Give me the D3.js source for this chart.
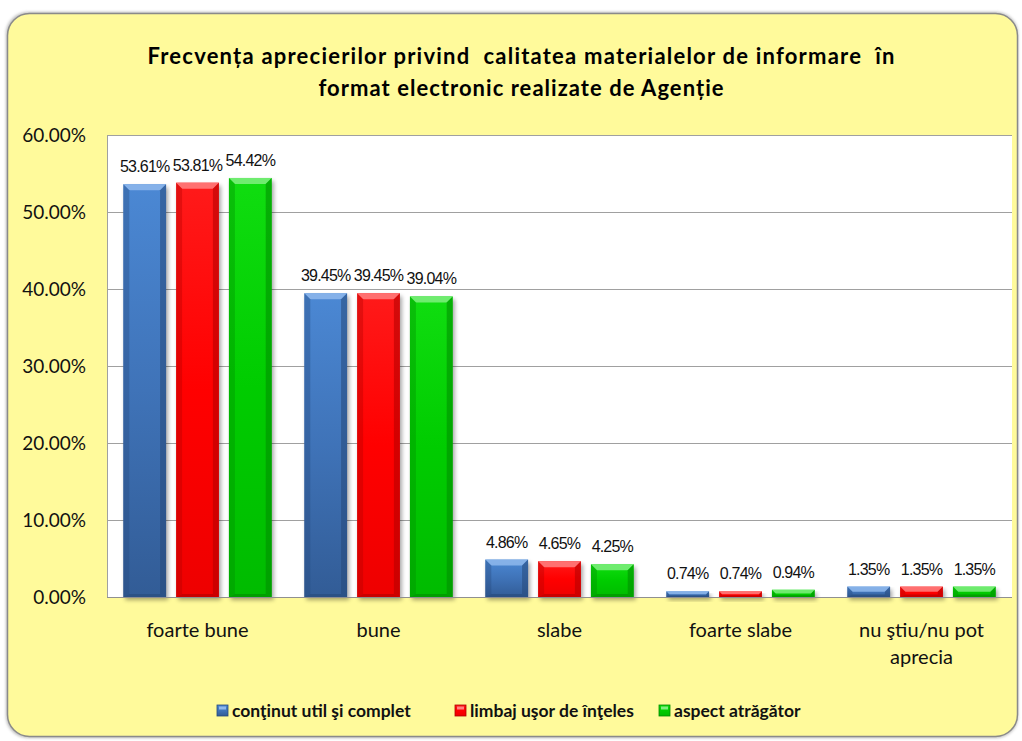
<!DOCTYPE html>
<html>
<head>
<meta charset="utf-8">
<script src="https://cdn.jsdelivr.net/npm/d3@7"></script>
<style>
  body { margin: 0; background: #fff; }
  svg { display: block; }
</style>
</head>
<body>
<div id="chart"></div>
<script>
'use strict';
// values (fractions)
const categories = ["foarte bune", "bune", "slabe", "foarte slabe", "nu ştiu/nu pot aprecia"];
const seriesNames = ["conţinut util şi complet", "limbaj uşor de înţeles", "aspect atrăgător"];
const continutUtil = [0.5361, 0.3945, 0.0486, 0.0074, 0.0135];
const limbajUsor = [0.5381, 0.3945, 0.0465, 0.0074, 0.0135];
const aspectAtragator = [0.5442, 0.3904, 0.0425, 0.0094, 0.0135];
const yTicks = [0, 0.1, 0.2, 0.3, 0.4, 0.5, 0.6];
const titleLines = ["Frecvența aprecierilor privind  calitatea materialelor de informare  în",
  "format electronic realizate de Agenție"];
const xLabelLines = [["foarte bune"], ["bune"], ["slabe"], ["foarte slabe"], ["nu ştiu/nu pot", "aprecia"]];

const seriesValues = [continutUtil, limbajUsor, aspectAtragator];
const colors = [
  { top: "#4b88d4", base: "#3f73b8", bottom: "#325c96", light: "#8fb8ec", dark: "#26497a" },
  { top: "#ff1a1a", base: "#ff0000", bottom: "#ee0000", light: "#ff8080", dark: "#b00000" },
  { top: "#10dd10", base: "#00cc00", bottom: "#00bb00", light: "#80ee80", dark: "#008a00" }
];

const W = 1022, H = 741;
const plot = { left: 107, right: 1012, top: 135, bottom: 597 };
const font = "Lato, 'Open Sans', sans-serif";

const svg = d3.select("#chart").append("svg")
  .attr("width", W)
  .attr("height", H);

const defs = svg.append("defs");
const shadow = defs.append("filter").attr("id", "shadow")
  .attr("x", "-20%").attr("y", "-20%").attr("width", "150%").attr("height", "150%");
shadow.append("feGaussianBlur").attr("stdDeviation", 2);

const frameShadow = defs.append("filter").attr("id", "frameShadow")
  .attr("x", "-5%").attr("y", "-5%").attr("width", "110%").attr("height", "110%");
frameShadow.append("feGaussianBlur").attr("stdDeviation", 1.5);

colors.forEach(function (c, i) {
  let g = defs.append("linearGradient").attr("id", "grad" + i)
    .attr("x1", 0).attr("y1", 0).attr("x2", 0).attr("y2", 1);
  g.append("stop").attr("offset", "0%").attr("stop-color", c.top);
  g.append("stop").attr("offset", "50%").attr("stop-color", c.base);
  g.append("stop").attr("offset", "100%").attr("stop-color", c.bottom);
});

// outer frame
svg.append("rect")
  .attr("x", 6).attr("y", 12).attr("width", 1012).attr("height", 726)
  .attr("rx", 22)
  .attr("fill", "#777").attr("opacity", 0.5)
  .attr("filter", "url(#frameShadow)");
svg.append("rect")
  .attr("x", 7.5).attr("y", 13.5).attr("width", 1010).attr("height", 723)
  .attr("rx", 22)
  .attr("fill", "#fffa9b")
  .attr("stroke", "#8a8a8a").attr("stroke-width", 1.5);

// title, stretched to the width it has in the picture
const titleWidths = [747, 405];
svg.append("g").selectAll("text")
  .data(titleLines)
  .join("text")
  .attr("x", 521)
  .attr("y", (d, i) => 64 + i * 32)
  .attr("text-anchor", "middle")
  .attr("textLength", (d, i) => titleWidths[i])
  .attr("lengthAdjust", "spacing")
  .style("font-family", font)
  .style("font-weight", "bold")
  .style("font-size", "22px")
  .style("white-space", "pre")
  .attr("fill", "#000")
  .text(d => d);

// scales
const x0 = d3.scaleBand()
  .domain(categories)
  .range([plot.left, plot.right])
  .paddingInner(0.18)
  .paddingOuter(0.09);
const x1 = d3.scaleBand()
  .domain(d3.range(seriesNames.length))
  .range([0, x0.bandwidth()])
  .paddingInner(0.19);
const y = d3.scaleLinear()
  .domain([0, 0.6])
  .range([plot.bottom, plot.top]);

// plot area
svg.append("rect")
  .attr("x", plot.left).attr("y", plot.top)
  .attr("width", plot.right - plot.left).attr("height", plot.bottom - plot.top)
  .attr("fill", "#fff");

svg.append("g").selectAll("line")
  .data(yTicks)
  .join("line")
  .attr("x1", plot.left).attr("x2", plot.right)
  .attr("y1", d => Math.round(y(d)) + 0.5).attr("y2", d => Math.round(y(d)) + 0.5)
  .attr("stroke", "#a0a0a0").attr("stroke-width", 1);

svg.append("line")
  .attr("x1", plot.left + 0.5).attr("x2", plot.left + 0.5)
  .attr("y1", plot.top).attr("y2", plot.bottom)
  .attr("stroke", "#a0a0a0");

// y axis
const yAxis = svg.append("g")
  .attr("transform", "translate(" + plot.left + ",0)")
  .call(d3.axisLeft(y).tickValues(yTicks).tickFormat(d3.format(".2%")).tickSize(0).tickPadding(21));
yAxis.select(".domain").remove();
yAxis.selectAll("text")
  .style("font-family", font)
  .style("font-size", "19px")
  .attr("fill", "#111");

// x axis labels
const xLab = svg.append("g").selectAll("text")
  .data(categories)
  .join("text")
  .attr("x", d => x0(d) + x0.bandwidth() / 2)
  .attr("text-anchor", "middle")
  .style("font-family", font)
  .style("font-size", "20px")
  .attr("fill", "#111");
xLab.selectAll("tspan")
  .data((d, i) => xLabelLines[i])
  .join("tspan")
  .attr("x", function () { return this.parentNode.getAttribute("x"); })
  .attr("y", (d, i) => 637 + i * 27)
  .text(d => d);

// bars
const bars = [];
categories.forEach(function (cat, ci) {
  seriesValues.forEach(function (vals, si) {
    bars.push({ cat: cat, s: si, v: vals[ci] });
  });
});

const barG = svg.append("g").selectAll("g")
  .data(bars)
  .join("g")
  .attr("transform", d => "translate(" + (x0(d.cat) + x1(d.s)) + ",0)");

const bw = x1.bandwidth();

barG.append("rect")
  .attr("x", 2).attr("y", d => y(d.v) + 3)
  .attr("width", bw).attr("height", d => plot.bottom - y(d.v))
  .attr("fill", "#000").attr("opacity", 0.35)
  .attr("filter", "url(#shadow)");

barG.append("rect")
  .attr("x", 0).attr("y", d => y(d.v))
  .attr("width", bw).attr("height", d => plot.bottom - y(d.v))
  .attr("fill", d => "url(#grad" + d.s + ")");

// bevels
function bevel(d) {
  return Math.min(6, (plot.bottom - y(d.v)) / 2);
}
barG.append("path")
  .attr("d", function (d) {
    let t = y(d.v), b = bevel(d);
    return "M0," + t + "L" + bw + "," + t + "L" + (bw - b) + "," + (t + b) + "L" + b + "," + (t + b) + "Z";
  })
  .attr("fill", d => colors[d.s].light).attr("opacity", 0.85);
barG.append("path")
  .attr("d", function (d) {
    let t = y(d.v), b = bevel(d), bt = plot.bottom;
    return "M0," + t + "L" + b + "," + (t + b) + "L" + b + "," + (bt - b / 2) + "L0," + bt + "Z";
  })
  .attr("fill", d => colors[d.s].dark).attr("opacity", 0.35);
barG.append("path")
  .attr("d", function (d) {
    let t = y(d.v), b = bevel(d), bt = plot.bottom;
    return "M" + bw + "," + t + "L" + (bw - b) + "," + (t + b) + "L" + (bw - b) + "," + (bt - b / 2) + "L" + bw + "," + bt + "Z";
  })
  .attr("fill", d => colors[d.s].dark).attr("opacity", 0.55);
barG.append("path")
  .attr("d", function (d) {
    let b = bevel(d) / 2, bt = plot.bottom;
    return "M0," + bt + "L" + b * 2 + "," + (bt - b) + "L" + (bw - b * 2) + "," + (bt - b) + "L" + bw + "," + bt + "Z";
  })
  .attr("fill", d => colors[d.s].dark).attr("opacity", 0.6);

// value labels
barG.append("text")
  .attr("x", bw / 2)
  .attr("y", d => y(d.v) - 12)
  .attr("text-anchor", "middle")
  .style("font-family", "'Liberation Sans', Arial, sans-serif")
  .style("font-size", "16px")
  .style("letter-spacing", "-0.8px")
  .attr("fill", "#111")
  .text(d => d3.format(".2%")(d.v));

// bottom axis line
svg.append("line")
  .attr("x1", plot.left).attr("x2", plot.right)
  .attr("y1", plot.bottom + 0.5).attr("y2", plot.bottom + 0.5)
  .attr("stroke", "#909090");

// legend
const legendX = [217, 455, 659];
const leg = svg.append("g").selectAll("g")
  .data(seriesNames)
  .join("g")
  .attr("transform", (d, i) => "translate(" + legendX[i] + ",705)");
leg.append("rect")
  .attr("width", 11).attr("height", 11)
  .attr("fill", (d, i) => "url(#grad" + i + ")")
  .attr("stroke", (d, i) => colors[i].dark).attr("stroke-width", 0.8);
leg.append("rect")
  .attr("x", 2).attr("y", 1.5).attr("width", 7).attr("height", 3)
  .attr("fill", (d, i) => colors[i].light);
leg.append("text")
  .attr("x", 15).attr("y", 11.5)
  .style("font-family", font)
  .style("font-weight", "bold")
  .style("font-size", "17.5px")
  .attr("fill", "#111")
  .text(d => d);
</script>
</body>
</html>
